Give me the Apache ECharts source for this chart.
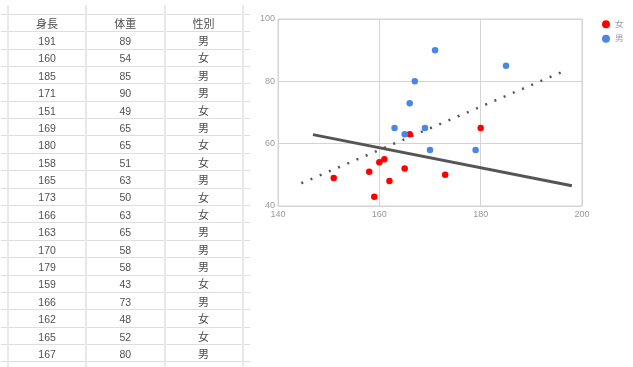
<!DOCTYPE html>
<html>
<head>
<meta charset="utf-8">
<script src="https://cdn.jsdelivr.net/npm/echarts@6/dist/echarts.min.js"></script>
<style>
html,body{margin:0;padding:0;background:#fff;}
#c{width:633px;height:367px;}
</style>
</head>
<body>
<div id="c"></div>
<script>
// ---- Table data (spreadsheet on the left) ----
var tableHeaders = ['身長', '体重', '性別'];
var tableHeights = [191, 160, 185, 171, 151, 169, 180, 158, 165, 173, 166, 163, 170, 179, 159, 166, 162, 165, 167];
var tableWeights = [89, 54, 85, 90, 49, 65, 65, 51, 63, 50, 63, 65, 58, 58, 43, 73, 48, 52, 80];
var tableGenders = ['男', '女', '男', '男', '女', '男', '女', '女', '男', '女', '女', '男', '男', '男', '女', '男', '女', '女', '男'];

// ---- Chart data (scatter on the right) ----
var seriesNames = ['女', '男'];
var femaleHeights = [151, 158, 159, 160, 161, 162, 165, 166, 173, 180];
var femaleWeights = [49, 51, 43, 54, 55, 48, 52, 63, 50, 65];
var maleHeights = [163, 165, 166, 167, 169, 170, 171, 179, 185];
var maleWeights = [65, 63, 73, 80, 65, 58, 90, 58, 85];
// trend lines (endpoints)
var solidTrendX = [146.9, 198];
var solidTrendY = [62.9, 46.5];
var dottedTrendX = [144.6, 197.2];
var dottedTrendY = [47.3, 83.8];
// axis ticks
var xTicks = [140, 160, 180, 200];
var yTicks = [40, 60, 80, 100];

var FONT = "'Liberation Sans', Arial, 'Noto Sans CJK JP', sans-serif";

function pairs(xs, ys) { return xs.map(function (x, i) { return [x, ys[i]]; }); }

var rowCats = [];
for (var r = 0; r <= tableHeights.length; r++) rowCats.push('r' + r);
var colCats = ['c0', 'c1', 'c2'];

var cellData = [];
tableHeaders.forEach(function (h, c) {
  cellData.push({ value: [c, 0, h], label: { fontSize: 11 } });
});
tableHeights.forEach(function (h, i) {
  cellData.push({ value: [0, i + 1, String(h)], label: { fontSize: 10.5 } });
  cellData.push({ value: [1, i + 1, String(tableWeights[i])], label: { fontSize: 10.5 } });
  cellData.push({ value: [2, i + 1, tableGenders[i]], label: { fontSize: 11 } });
});

var chart = echarts.init(document.getElementById('c'), null, { renderer: 'canvas' });
var hidden = { axisLine: { show: false }, axisTick: { show: false }, axisLabel: { show: false } };

chart.setOption({
  animation: false,
  textStyle: { fontFamily: FONT },
  legend: {
    data: seriesNames,
    orient: 'vertical',
    left: 597, top: 15,
    itemWidth: 8, itemHeight: 8, itemGap: 6,
    icon: 'circle',
    textStyle: { color: '#999', fontSize: 8.5, fontFamily: FONT }
  },
  grid: [
    { left: 278, top: 19, width: 304, height: 187, show: true, borderColor: '#d4d4d4', borderWidth: 1 },
    { left: 1, top: 14, width: 249, height: 347.7 },
    { left: 8, top: 5, width: 234.7, bottom: 0 },
    { left: 8, top: 14, width: 234.7, height: 347.7 }
  ],
  xAxis: [
    {
      gridIndex: 0, type: 'value', min: xTicks[0], max: xTicks[xTicks.length - 1], interval: 20,
      axisLine: { show: false }, axisTick: { show: false },
      axisLabel: { color: '#999', fontSize: 9, margin: 4, fontFamily: FONT },
      splitLine: { show: true, lineStyle: { color: '#d4d4d4', width: 1 } }
    },
    Object.assign({ gridIndex: 1, type: 'value', min: 0, max: 1, splitLine: { show: false } }, hidden),
    Object.assign({ gridIndex: 2, type: 'category', data: colCats,
      splitLine: { show: true, lineStyle: { color: '#e8e8e8', width: 2 } } }, hidden),
    Object.assign({ gridIndex: 3, type: 'category', data: colCats, splitLine: { show: false } }, hidden)
  ],
  yAxis: [
    {
      gridIndex: 0, type: 'value', min: yTicks[0], max: yTicks[yTicks.length - 1], interval: 20,
      axisLine: { show: false }, axisTick: { show: false },
      axisLabel: { color: '#999', fontSize: 9, margin: 3, fontFamily: FONT },
      splitLine: { show: true, lineStyle: { color: '#d4d4d4', width: 1 } }
    },
    Object.assign({ gridIndex: 1, type: 'category', data: rowCats, inverse: true,
      splitLine: { show: true, lineStyle: { color: '#dedede', width: 1 } } }, hidden),
    Object.assign({ gridIndex: 2, type: 'value', min: 0, max: 1, splitLine: { show: false } }, hidden),
    Object.assign({ gridIndex: 3, type: 'category', data: rowCats, inverse: true, splitLine: { show: false } }, hidden)
  ],
  series: [
    {
      name: 'trendSolid', type: 'line', xAxisIndex: 0, yAxisIndex: 0,
      data: pairs(solidTrendX, solidTrendY), symbol: 'none', silent: true,
      lineStyle: { color: '#555', width: 3 }, z: 1
    },
    {
      name: 'trendDotted', type: 'line', xAxisIndex: 0, yAxisIndex: 0,
      data: pairs(dottedTrendX, dottedTrendY), symbol: 'none', silent: true,
      lineStyle: { color: '#555', width: 2.5, type: [2, 8] }, z: 1
    },
    {
      name: seriesNames[0], type: 'scatter', xAxisIndex: 0, yAxisIndex: 0,
      data: pairs(femaleHeights, femaleWeights), symbolSize: 6.5,
      itemStyle: { color: '#ff0000', opacity: 1 }, z: 3
    },
    {
      name: seriesNames[1], type: 'scatter', xAxisIndex: 0, yAxisIndex: 0,
      data: pairs(maleHeights, maleWeights), symbolSize: 6.5,
      itemStyle: { color: '#4a86e8', opacity: 1 }, z: 3
    },
    {
      name: 'table', type: 'scatter', xAxisIndex: 3, yAxisIndex: 3,
      data: cellData, symbolSize: 1, silent: true,
      itemStyle: { color: 'rgba(0,0,0,0)' },
      label: {
        show: true, position: 'inside', offset: [0, 2],
        formatter: function (p) { return p.value[2]; },
        color: '#222', fontFamily: FONT
      }
    }
  ]
});
</script>
</body>
</html>
